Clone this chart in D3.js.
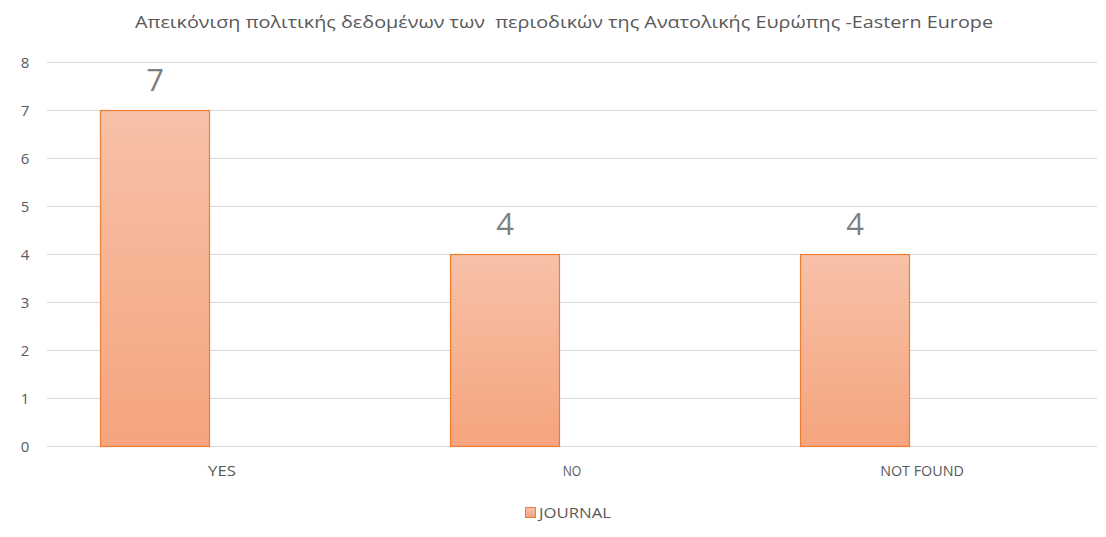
<!DOCTYPE html>
<html><head><meta charset="utf-8">
<script src="https://cdn.jsdelivr.net/npm/d3@7"></script>
<style>body{margin:0;background:#fff;} text{font-family:"Open Sans","Noto Sans",sans-serif;}</style>
</head><body>
<svg id="c" width="1106" height="537"></svg>
<script>
const categories = ["YES", "NO", "NOT FOUND"];
const journalValues = [7, 4, 4];
const yTicks = [0, 1, 2, 3, 4, 5, 6, 7, 8];
const title = "Απεικόνιση πολιτικής δεδομένων των  περιοδικών της Ανατολικής Ευρώπης -Eastern Europe";
const seriesName = "JOURNAL";

const svg = d3.select("#c");
const m = {left: 47, right: 1097, top: 62, bottom: 446};
const x = d3.scaleBand().domain(categories).range([m.left, m.right]).paddingInner(0).paddingOuter(0);
const y = d3.scaleLinear().domain([0, 8]).range([m.bottom, m.top]);

const defs = svg.append("defs");
const g = defs.append("linearGradient").attr("id","bg").attr("x1",0).attr("y1",0).attr("x2",0).attr("y2",1);
g.append("stop").attr("offset","0%").attr("stop-color","#f7c1a8");
g.append("stop").attr("offset","100%").attr("stop-color","#f5a47e");

// title
svg.append("text").attr("x", 564).attr("y", 28).attr("text-anchor","middle")
  .attr("fill","#595959").attr("font-size",15.5).attr("textLength",858).attr("lengthAdjust","spacingAndGlyphs")
  .style("white-space","pre").text(title);

// gridlines
svg.append("g").selectAll("line").data(yTicks).join("line")
  .attr("x1", m.left).attr("x2", m.right)
  .attr("y1", d => y(d)+0.5).attr("y2", d => y(d)+0.5)
  .attr("stroke","#d9d9d9").attr("stroke-width",1);

// y axis labels
const yAxis = d3.axisLeft(y).tickValues(yTicks).tickSize(0).tickPadding(0);
const ya = svg.append("g").attr("transform","translate(25,0)").call(yAxis);
ya.select(".domain").remove();
ya.selectAll("text").attr("fill","#595959").attr("font-size",15).attr("text-anchor","middle").attr("dx",0).attr("dy","0.35em");

// x axis labels
const xAxis = d3.axisBottom(x).tickSize(0).tickPadding(0);
const xa = svg.append("g").attr("transform",`translate(0,${m.bottom})`).call(xAxis);
xa.select(".domain").remove();
xa.selectAll("text").attr("fill","#595959").attr("font-size",14).attr("y",30).attr("dy","0")
  .attr("textLength", (d) => d.length * 9.3).attr("lengthAdjust","spacingAndGlyphs");

// bars
const bw = x.bandwidth() * 109/350;
const off = x.bandwidth() * 53/350;
svg.append("g").selectAll("rect").data(journalValues).join("rect")
  .attr("x", (d,i) => x(categories[i]) + off + 0.5)
  .attr("y", d => y(d) + 0.5)
  .attr("width", bw)
  .attr("height", d => y(0) - y(d))
  .attr("fill","url(#bg)").attr("stroke","#ed7d31").attr("stroke-width",1.2);

// data labels
svg.append("g").selectAll("text").data(journalValues).join("text")
  .attr("x", (d,i) => x(categories[i]) + off + bw/2 + 0.5)
  .attr("y", d => y(d) - 19)
  .attr("text-anchor","middle").attr("fill","#7f7f7f").attr("font-size",31)
  .text(d => d);

// legend
svg.append("rect").attr("x",525.5).attr("y",507.5).attr("width",10).attr("height",10)
  .attr("fill","url(#bg)").attr("stroke","#ed7d31").attr("stroke-width",1);
svg.append("text").attr("x",539).attr("y",518).attr("fill","#595959").attr("font-size",14)
  .attr("textLength",72).attr("lengthAdjust","spacingAndGlyphs").text(seriesName);
</script>
</body></html>
